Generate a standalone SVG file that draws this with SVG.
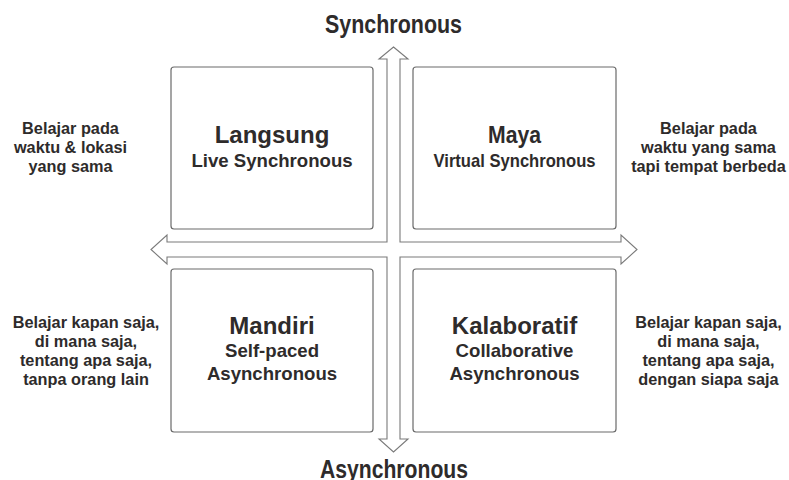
<svg xmlns="http://www.w3.org/2000/svg" width="789" height="480" viewBox="0 0 789 480">
<style>
text{font-family:"Liberation Sans",Arial,sans-serif;font-weight:bold;fill:#2e2b2b;text-anchor:middle}
.axis{font-size:25px}
.title{font-size:24px}
.sub{font-size:18.6px}
.side{font-size:16.3px}
.box{fill:#fff;stroke:#6a6a6a;stroke-width:1.2}
.arrow{fill:#fff;stroke:#7a7a7a;stroke-width:1.1;stroke-linejoin:miter}
</style>
<rect width="789" height="480" fill="#fff"/>
<g id="connectors">
<path class="arrow" d="M393.5,47 L408,59 L400,59 L400,242 L621,242 L621,235 L637,249.5 L621,264 L621,257 L400,257 L400,439 L408,439 L393.5,452 L379,439 L387,439 L387,257 L167,257 L167,264 L151,249.5 L167,235 L167,242 L387,242 L387,59 L379,59 Z"/>
</g>
<g id="axis-sync"><text class="axis" x="393.5" y="33" textLength="137" lengthAdjust="spacingAndGlyphs">Synchronous</text></g>
<g id="axis-async"><text class="axis" x="394" y="478" textLength="148" lengthAdjust="spacingAndGlyphs">Asynchronous</text></g>
<g id="langsung">
<rect class="box" x="171" y="67" width="202" height="162" rx="3"/>
<text class="title" x="272" y="143">Langsung</text>
<text class="sub" x="272" y="167">Live Synchronous</text>
</g>
<g id="maya">
<rect class="box" x="413" y="67" width="203" height="162" rx="3"/>
<text class="title" x="514.5" y="143" textLength="53" lengthAdjust="spacingAndGlyphs">Maya</text>
<text class="sub" x="514.5" y="167" textLength="162" lengthAdjust="spacingAndGlyphs">Virtual Synchronous</text>
</g>
<g id="mandiri">
<rect class="box" x="171" y="269" width="202" height="163" rx="3"/>
<text class="title" x="272" y="334">Mandiri</text>
<text class="sub" x="272" y="357">Self-paced</text>
<text class="sub" x="272" y="380">Asynchronous</text>
</g>
<g id="kalaboratif">
<rect class="box" x="413" y="269" width="203" height="163" rx="3"/>
<text class="title" x="514.5" y="334">Kalaboratif</text>
<text class="sub" x="514.5" y="357">Collaborative</text>
<text class="sub" x="514.5" y="380">Asynchronous</text>
</g>
<g id="desc-langsung">
<text class="side" x="70.5" y="134">Belajar pada</text>
<text class="side" x="70.5" y="153">waktu &amp; lokasi</text>
<text class="side" x="70.5" y="172">yang sama</text>
</g>
<g id="desc-maya">
<text class="side" x="708.5" y="134">Belajar pada</text>
<text class="side" x="708.5" y="153">waktu yang sama</text>
<text class="side" x="708.5" y="172">tapi tempat berbeda</text>
</g>
<g id="desc-mandiri">
<text class="side" x="86" y="328">Belajar kapan saja,</text>
<text class="side" x="86" y="347">di mana saja,</text>
<text class="side" x="86" y="366">tentang apa saja,</text>
<text class="side" x="86" y="385">tanpa orang lain</text>
</g>
<g id="desc-kalaboratif">
<text class="side" x="708.5" y="328">Belajar kapan saja,</text>
<text class="side" x="708.5" y="347">di mana saja,</text>
<text class="side" x="708.5" y="366">tentang apa saja,</text>
<text class="side" x="708.5" y="385">dengan siapa saja</text>
</g>
</svg>
